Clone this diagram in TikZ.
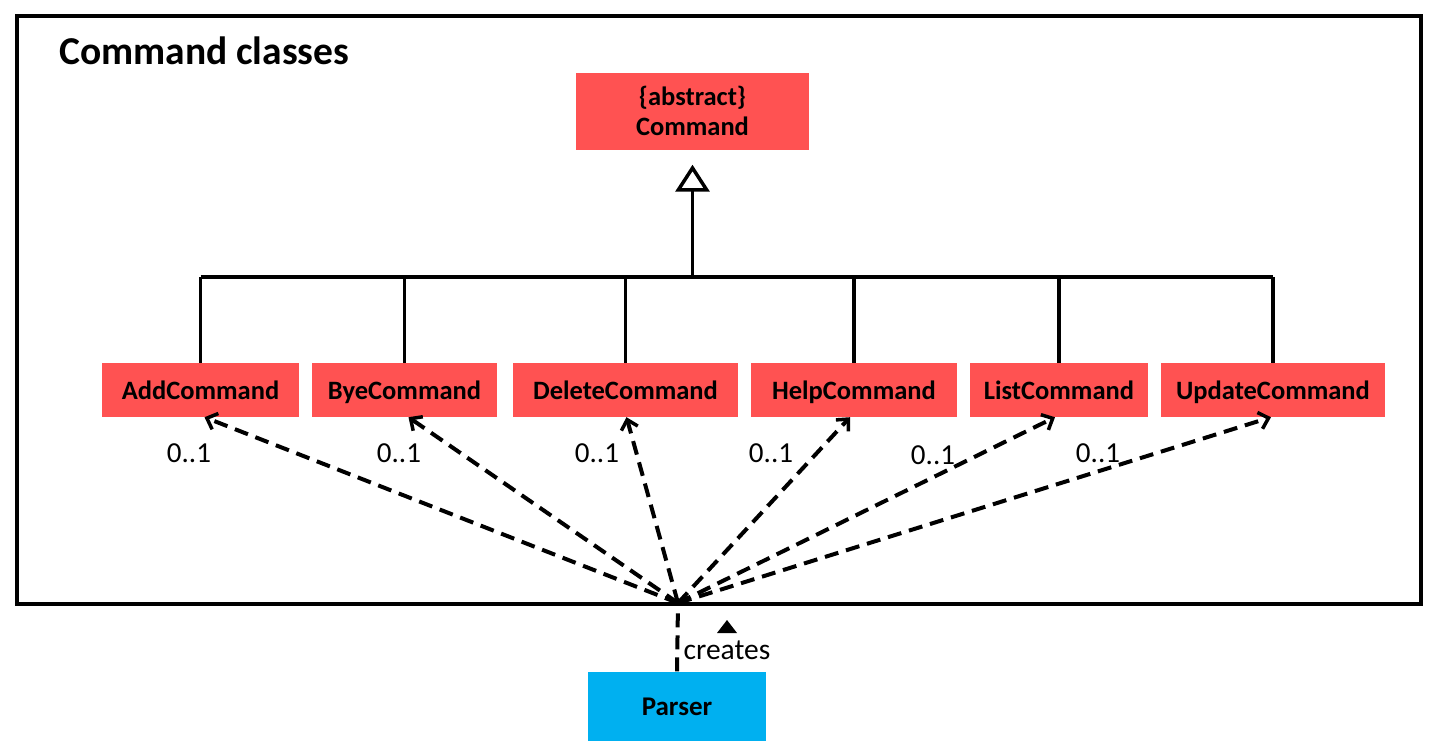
\documentclass[tikz,border=0pt]{standalone}
\usepackage{fontspec}
\setmainfont{Carlito}
\usetikzlibrary{arrows.meta}
\definecolor{boxred}{RGB}{255,82,82}
\definecolor{boxcyan}{RGB}{0,176,240}
\tikzset{
  cls/.style={fill=boxred, inner sep=0pt, minimum height=54pt,
    font=\fontsize{26.5}{30}\selectfont\bfseries, text=black},
  one/.style={text height=21pt, text depth=2pt},
  mult/.style={font=\fontsize{29}{33}\selectfont, text=black, inner sep=0pt},
  inh/.style={line width=3.5pt},
  dep/.style={line width=4pt, dash pattern=on 14pt off 8pt,
    -{Straight Barb[length=9pt,width=17pt,line width=3.5pt]}},
}
\begin{document}
\begin{tikzpicture}[x=1pt,y=-1pt]
\useasboundingbox (0,0) rectangle (1448,753);
\draw[line width=3.5pt] (17,16) rectangle (1421,604);
\node[anchor=west, inner sep=0pt, font=\fontsize{39.5}{44}\selectfont\bfseries] (title) at (59,51) {Command classes};

\node[cls, minimum width=233pt, minimum height=77pt, align=center] (cmd) at (692.5,111) {\{abstract\}\\[0pt]Command};

\node[cls, one, minimum width=197pt] (add) at (200.5,390) {AddCommand};
\node[cls, one, minimum width=185pt] (bye) at (404.5,390) {ByeCommand};
\node[cls, one, minimum width=225pt] (del) at (625.5,390) {DeleteCommand};
\node[cls, one, minimum width=206pt] (help) at (854,390) {HelpCommand};
\node[cls, one, minimum width=178pt] (list) at (1059,390) {ListCommand};
\node[cls, one, minimum width=224pt] (upd) at (1273,390) {UpdateCommand};

\node[fill=boxcyan, one, minimum width=178pt, minimum height=69pt, inner sep=0pt,
  font=\fontsize{27}{31}\selectfont\bfseries] (parser) at (677,706) {Parser};

% inheritance tree
\coordinate (bus) at (692.5,277);
\draw[inh] (add.north |- bus) -- (upd.north |- bus);
\foreach \c in {add,bye,del,help,list,upd}
  \draw[inh] (\c.north) -- (\c.north |- bus);
\draw[inh, -{Triangle[open, length=27pt, width=34pt, line width=3.5pt, fill=white]}, shorten >=15pt] (bus) -- (cmd.south);

% dependencies
\coordinate (hub) at (678,603);
\draw[line width=4pt, dash pattern=on 14pt off 8pt] (parser.north) -- (hub);
\draw[dep] (hub) -- ([xshift=4pt]add.south);
\draw[dep] (hub) -- ([xshift=4pt]bye.south);
\draw[dep] (hub) -- ([xshift=1pt]del.south);
\draw[dep] (hub) -- ([xshift=-4pt]help.south);
\draw[dep] (hub) -- ([xshift=-4pt]list.south);
\draw[dep] (hub) -- ([xshift=-2pt]upd.south);

\node[mult] (m1) at (189,453) {0..1};
\node[mult] (m2) at (399,453) {0..1};
\node[mult] (m3) at (597,453) {0..1};
\node[mult] (m4) at (771,453) {0..1};
\node[mult] (m5) at (933,455) {0..1};
\node[mult] (m6) at (1098,453) {0..1};

\node[mult, font=\fontsize{29.5}{33}\selectfont] (creates) at (727,650) {creates};
\fill (717,633) -- (737,633) -- (727,620) -- cycle;
\end{tikzpicture}
\end{document}
